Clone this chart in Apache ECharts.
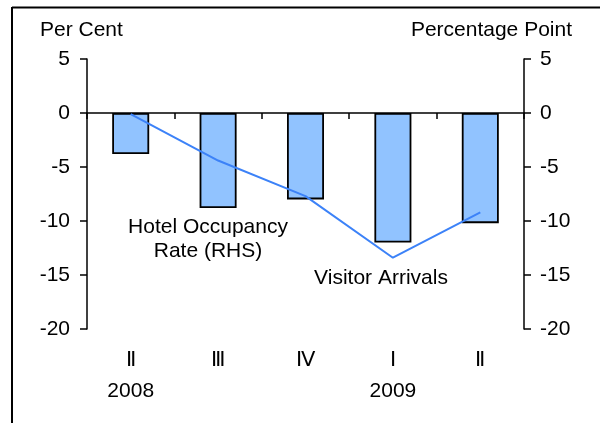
<!DOCTYPE html>
<html>
<head>
<meta charset="utf-8">
<script src="https://cdn.jsdelivr.net/npm/echarts@6/dist/echarts.min.js"></script>
<style>html,body{margin:0;padding:0;background:#fff}#c{width:600px;height:423px}</style>
</head>
<body>
<div id="c"></div>
<script>
var categories = ['Ⅱ', 'Ⅲ', 'Ⅳ', 'Ⅰ', 'Ⅱ'];
var years = ['2008', '', '', '2009', ''];
var visitorArrivals = [-3.8, -8.8, -8.0, -12.0, -10.2];
var hotelOccupancy = [-0.1, -4.4, -7.7, -13.4, -9.2];
var yTicks = { min: -20, max: 5, interval: 5 };

var FONT = '"Liberation Sans", Arial, sans-serif';
var FS = 21;
var labels = categories.map(function (c, i) { return years[i] ? c + '\n' + years[i] : c; });

var chart = echarts.init(document.getElementById('c'), null, { renderer: 'canvas' });
chart.setOption({
  animation: false,
  backgroundColor: '#fff',
  textStyle: { fontFamily: FONT },
  grid: { left: 87, right: 76, top: 59, bottom: 94 },
  xAxis: [
    {
      type: 'category', data: categories, boundaryGap: true,
      axisLine: { onZero: true, lineStyle: { color: '#000', width: 1.5 } },
      axisTick: { show: true, length: 6, lineStyle: { color: '#000', width: 1.5 } },
      axisLabel: { show: false }, splitLine: { show: false }
    },
    {
      type: 'category', data: labels, position: 'bottom',
      axisLine: { show: false, onZero: false }, axisTick: { show: false },
      axisLabel: { margin: 16, fontSize: FS, lineHeight: 31, color: '#000', fontFamily: FONT, interval: 0 },
      splitLine: { show: false }
    }
  ],
  yAxis: [
    {
      type: 'value', min: yTicks.min, max: yTicks.max, interval: yTicks.interval, position: 'left',
      axisLine: { show: true, lineStyle: { color: '#000', width: 1.5 } },
      axisTick: { show: true, length: 7, lineStyle: { color: '#000', width: 1.5 } },
      axisLabel: { margin: 17, fontSize: FS, color: '#000', fontFamily: FONT },
      splitLine: { show: false }
    },
    {
      type: 'value', min: yTicks.min, max: yTicks.max, interval: yTicks.interval, position: 'right',
      axisLine: { show: true, lineStyle: { color: '#000', width: 1.5 } },
      axisTick: { show: true, length: 7, lineStyle: { color: '#000', width: 1.5 } },
      axisLabel: { margin: 16, fontSize: FS, color: '#000', fontFamily: FONT },
      splitLine: { show: false }
    }
  ],
  series: [
    {
      name: 'Visitor Arrivals', type: 'bar', data: visitorArrivals, xAxisIndex: 0, yAxisIndex: 0,
      barWidth: 37,
      itemStyle: { color: '#91C3FF', borderColor: '#000', borderWidth: 1.8 }
    },
    {
      name: 'Hotel Occupancy Rate (RHS)', type: 'line', data: hotelOccupancy, xAxisIndex: 0, yAxisIndex: 1,
      symbol: 'none', z: 5,
      lineStyle: { color: '#3C82F8', width: 2 }
    }
  ],
  graphic: [
    { type: 'line', shape: { x1: 12, y1: 7.5, x2: 600, y2: 7.5 }, style: { stroke: '#000', lineWidth: 2 } },
    { type: 'line', shape: { x1: 12, y1: 7, x2: 12, y2: 423 }, style: { stroke: '#000', lineWidth: 2 } },
    { type: 'text', x: 40, y: 30, style: { text: 'Per Cent', font: FS + 'px ' + FONT, fill: '#000', textAlign: 'left', textVerticalAlign: 'middle' } },
    { type: 'text', x: 572, y: 30, style: { text: 'Percentage Point', font: FS + 'px ' + FONT, fill: '#000', textAlign: 'right', textVerticalAlign: 'middle' } },
    { type: 'text', x: 208, y: 227, style: { text: 'Hotel Occupancy', font: FS + 'px ' + FONT, fill: '#000', textAlign: 'center', textVerticalAlign: 'middle' } },
    { type: 'text', x: 208, y: 251, style: { text: 'Rate (RHS)', font: FS + 'px ' + FONT, fill: '#000', textAlign: 'center', textVerticalAlign: 'middle' } },
    { type: 'text', x: 381, y: 278, style: { text: 'Visitor Arrivals', font: FS + 'px ' + FONT, fill: '#000', textAlign: 'center', textVerticalAlign: 'middle' } }
  ]
});
</script>
</body>
</html>
